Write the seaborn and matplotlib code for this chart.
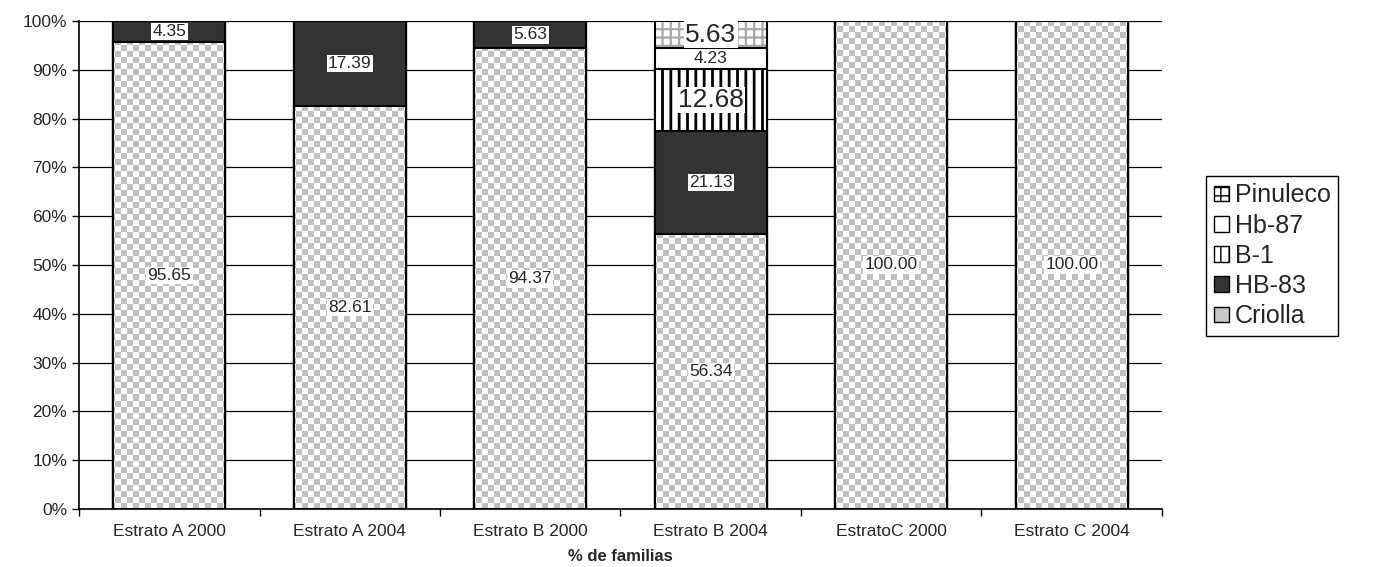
import numpy as np
import pandas as pd
import matplotlib.pyplot as plt
import seaborn as sns
from matplotlib.patches import Patch
from matplotlib.colors import ListedColormap
from matplotlib.ticker import PercentFormatter

# datos (% de familias por variedad)
categories = ['Estrato A 2000', 'Estrato A 2004', 'Estrato B 2000',
              'Estrato B 2004', 'EstratoC 2000', 'Estrato C 2004']
criolla = [95.65, 82.61, 94.37, 56.34, 100.00, 100.00]
hb83 = [4.35, 17.39, 5.63, 21.13, 0, 0]
b1 = [0, 0, 0, 12.68, 0, 0]
hb87 = [0, 0, 0, 4.23, 0, 0]
pinuleco = [0, 0, 0, 5.63, 0, 0]
series_names = ['Criolla', 'HB-83', 'B-1', 'Hb-87', 'Pinuleco']

sns.set_style('ticks')
plt.rcParams['font.family'] = ['Liberation Sans', 'DejaVu Sans']

df = pd.DataFrame({'estrato': categories, 'Criolla': criolla, 'HB-83': hb83,
                   'B-1': b1, 'Hb-87': hb87, 'Pinuleco': pinuleco})
cum = df[series_names].cumsum(axis=1)

styles = {
    'Criolla': dict(face='white', hatch=None, hcol='white', hlw=1.0, fs=12.5),
    'HB-83': dict(face='#333333', hatch=None, hcol='#333333', hlw=1.0, fs=12.5),
    'B-1': dict(face='white', hatch='||', hcol='black', hlw=2.0, fs=19),
    'Hb-87': dict(face='white', hatch=None, hcol='white', hlw=1.0, fs=12.5),
    'Pinuleco': dict(face='white', hatch='++', hcol='#a8a8a8', hlw=1.6, fs=19),
}

fig, ax = plt.subplots(figsize=(13.74, 5.67), dpi=100)
fig.subplots_adjust(left=0.0575, right=0.8457, bottom=0.1023, top=0.963)

# textura de cuadritos para Criolla
nx, ny = 180, 81
checker = np.add.outer(np.arange(ny), np.arange(nx)) % 2
checker_cmap = ListedColormap(['white', '#c0c0c0'])

for i, name in enumerate(reversed(series_names)):
    st = styles[name]
    z = 2 + i
    plt.rcParams['hatch.linewidth'] = st['hlw']
    sns.barplot(x=df['estrato'], y=cum[name], ax=ax, color=st['face'], saturation=1,
                width=0.62, edgecolor=st['hcol'], linewidth=0, hatch=st['hatch'],
                zorder=z, errorbar=None)
    bars = ax.containers[-1]
    if name == 'Criolla':
        for bar in bars:
            im = ax.imshow(checker, extent=(-0.5, 5.5, 0, 100), cmap=checker_cmap,
                           interpolation='nearest', aspect='auto', origin='lower',
                           zorder=z + 0.1)
            im.set_clip_path(bar)
    sns.barplot(x=df['estrato'], y=cum[name], ax=ax, color='black', fill=False,
                width=0.62, linewidth=1.5, zorder=z + 0.2, errorbar=None)

# etiquetas de valores
for name in series_names:
    vals = df[name]
    mids = cum[name] - vals / 2
    for i, (v, m) in enumerate(zip(vals, mids)):
        if v > 0:
            ax.text(i, m, f'{v:.2f}', ha='center', va='center',
                    fontsize=styles[name]['fs'], zorder=30,
                    bbox=dict(facecolor='white', edgecolor='none', pad=1))

ax.set_xlim(-0.5, 5.5)
ax.set_ylim(0, 100)
ax.set_yticks(np.arange(0, 101, 10))
ax.yaxis.set_major_formatter(PercentFormatter(decimals=0))
ax.yaxis.grid(True, color='black', linewidth=0.9)
ax.set_axisbelow(True)
ax.set_xticks(range(len(categories)))
ax.set_xticklabels(categories)
ax.set_xticks(np.arange(-0.5, len(categories), 1), minor=True)
ax.tick_params(axis='x', which='major', length=0, labelsize=12.5, pad=11)
ax.tick_params(axis='x', which='minor', length=5, direction='out', color='black', width=1)
ax.tick_params(axis='y', length=5, direction='out', color='black', width=1, labelsize=12.5)
for s in ['top', 'right']:
    ax.spines[s].set_visible(False)
for s in ['left', 'bottom']:
    ax.spines[s].set_color('black')
    ax.spines[s].set_linewidth(1.2)
ax.set_xlabel('% de familias', fontweight='bold', fontsize=12, labelpad=7)
ax.set_ylabel('')

# leyenda
handles = [Patch(facecolor=styles[n]['face'] if n != 'Criolla' else '#c8c8c8',
                 edgecolor='black', hatch=styles[n]['hatch'], label=n)
           for n in reversed(series_names)]
plt.rcParams['hatch.linewidth'] = 1.0
leg = fig.legend(handles=handles, loc='upper left', bbox_to_anchor=(0.878, 0.69),
                 frameon=True, fancybox=False, fontsize=18, handlelength=0.6,
                 handleheight=0.6, handletextpad=0.25, labelspacing=0.25,
                 borderpad=0.3, borderaxespad=0, framealpha=1)
leg.get_frame().set_edgecolor('black')
leg.get_frame().set_linewidth(1)

plt.savefig('out.png', dpi=100)
plt.close()
